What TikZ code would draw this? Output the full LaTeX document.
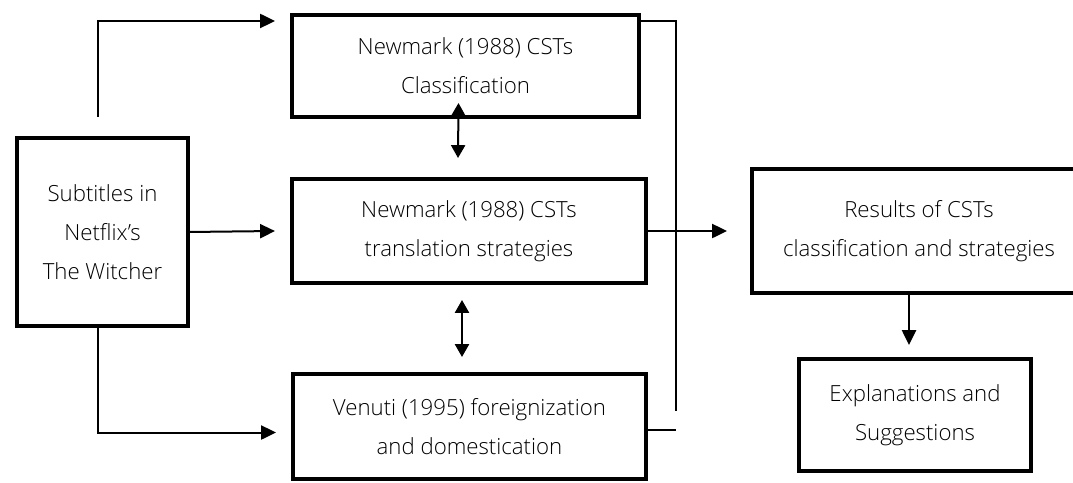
\documentclass[tikz,border=0pt]{standalone}
\usepackage{fontspec}
\setmainfont{Open Sans Light}
\usetikzlibrary{arrows.meta,calc}

\begin{document}
\begin{tikzpicture}[x=0.025cm,y=-0.025cm,
    box/.style={draw,line width=0.1cm,inner sep=0pt,outer sep=0pt,align=center,
                font=\fontsize{15.8}{27.7}\selectfont},
    link/.style={line width=0.05cm},
    arr/.style={link,-{Triangle[length=0.37cm,width=0.35cm]}},
    twoway/.style={link,{Triangle[length=0.32cm,width=0.35cm]}-{Triangle[length=0.32cm,width=0.35cm]}}]

\useasboundingbox (0,0) rectangle (1073,482);

\node[box,minimum width=4.275cm,minimum height=4.7cm]   (src) at (102.5,232) {Subtitles in\\Netflix’s\\The Witcher};
\node[box,minimum width=8.675cm,minimum height=2.55cm]  (cls) at (465.5,66)  {Newmark (1988) CSTs\\Classification};
\node[box,minimum width=8.85cm,minimum height=2.6cm]    (str) at (469,231)   {Newmark (1988) CSTs\\translation strategies};
\node[box,minimum width=8.825cm,minimum height=2.625cm] (ven) at (469.5,426.5) {Venuti (1995) foreignization\\and domestication};
\node[box,minimum width=8.35cm,minimum height=3.1cm]    (res) at (919,231)   {Results of CSTs\\classification and strategies};
\node[box,minimum width=5.8cm,minimum height=2.8cm]     (exp) at (915,415)   {Explanations and\\Suggestions};

% source to the three frameworks
\draw[arr] ($(src.north)+(-5,-21)$) |- ($(cls.north west)+(-17,6)$);
\draw[arr] (src.east) -- ($(str.west)+(-17,0)$);
\draw[arr] ($(src.south)+(-5,0)$) |- ($(ven.west)+(-17,6)$);

% between the frameworks
\draw[twoway] ($(cls.south)+(-7,-14)$) -- ($(str.north)+(-11,-21)$);
\draw[twoway] ($(str.south)+(-7,17)$) -- ($(ven.north)+(-7.5,-17)$);

% to the results
\draw[link] ($(cls.north east)+(1,6)$) -| ($(ven.north east)+(30,37)$);
\draw[link] ($(ven.east)+(0,3)$) -- ++(30,0);
\draw[arr] (str.east) -- ($(res.west)+(-25,0)$);
\draw[arr] ($(res.south)+(-10,0)$) -- ($(exp.north)+(-6,-14)$);

\end{tikzpicture}
\end{document}
